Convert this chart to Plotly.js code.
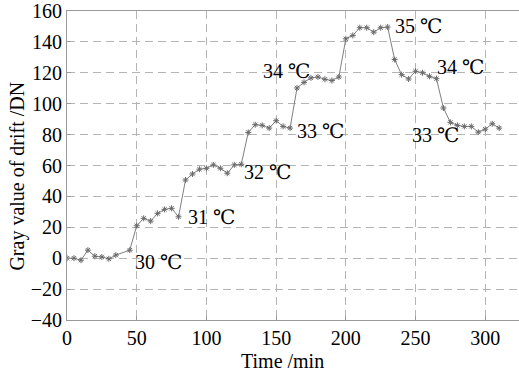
<!DOCTYPE html>
<html>
<head>
<meta charset="utf-8">
<script src="https://cdn.plot.ly/plotly-3.0.1.min.js"></script>
<style>html,body{margin:0;padding:0;background:#fff;}#chart{width:519px;height:373px;}</style>
</head>
<body>
<div id="chart"></div>
<script>
// Time (min)
const timeMin = [0,5,10,15,20,25,30,35,45,50,55,60,65,70,75,80,85,90,95,100,105,110,115,120,125,130,135,140,145,150,155,160,165,170,175,180,185,190,195,200,205,210,215,220,225,230,235,240,245,250,255,260,265,270,275,280,285,290,295,300,305,310];
// Gray value of drift (DN)
const drift = [0,0,-1.3,5.2,1.3,0.8,-0.4,2,5.2,21,25.8,24,29,31.6,32.3,26.8,50.6,54.5,57.6,58.2,60.4,58.2,55,60.4,60.8,81.4,86.4,86,84.2,89,85.3,84.2,110.2,113.8,116.7,117.3,115.8,115,117.3,142,144.2,149.2,149.2,146.3,149.2,149.6,128.6,118.8,116,121,120,117.7,116.2,97.2,87.9,86,85.3,85.3,81.6,83.5,87,84.2];
// Temperature labels
const tempLabels = ["30 ℃","31 ℃","32 ℃","33 ℃","34 ℃","35 ℃","34 ℃","33 ℃"];
const labelX = [47,85.5,125.7,163.2,139.3,233.7,263.6,246.2];
const labelY = [-2.6,26.8,56,82.5,121,150.6,123.6,79.9];
const xTicks = [0,50,100,150,200,250,300];
const yTicks = [-40,-20,0,20,40,60,80,100,120,140,160];
const xTitle = 'Time /min';
const yTitle = 'Gray value of drift /DN';

const serif = "Liberation Serif, DejaVu Serif, serif";
const txt = {family: serif, size: 20, color: '#000'};

const trace = {
  x: timeMin, y: drift, type: 'scatter', mode: 'lines+markers',
  line: {color: '#808080', width: 1},
  marker: {symbol: 'asterisk-open', size: 5, color: '#6a6a6a', line: {color: '#6a6a6a', width: 1}},
  hoverinfo: 'skip'
};

const annotations = tempLabels.map((t, i) => ({
  x: labelX[i], y: labelY[i], xref: 'x', yref: 'y', text: t, showarrow: false,
  xanchor: 'left', yanchor: 'middle', font: txt
}));
annotations.push({x: 0.4757, y: -0.133, xref: 'paper', yref: 'paper', text: xTitle, showarrow: false,
  xanchor: 'center', yanchor: 'middle', font: txt});
annotations.push({x: -0.11, y: 0.465, xref: 'paper', yref: 'paper', text: yTitle, showarrow: false,
  textangle: -90, xanchor: 'center', yanchor: 'middle', font: txt});

const layout = {
  width: 519, height: 373,
  margin: {l: 67, r: 0, t: 11, b: 53},
  paper_bgcolor: '#fff', plot_bgcolor: '#fff',
  showlegend: false,
  font: txt,
  xaxis: {
    range: [0, 324.2], tickvals: xTicks, ticktext: xTicks.map(String),
    showgrid: true, gridcolor: '#b4b4b4', griddash: '8px,5px', gridwidth: 1,
    zeroline: false, showline: true, linecolor: '#9a9a9a', linewidth: 1, mirror: true,
    ticks: 'inside', ticklen: 4, tickcolor: '#9a9a9a',
    tickfont: txt
  },
  yaxis: {
    range: [-40, 160], tickvals: yTicks, ticktext: yTicks.map(v => v < 0 ? '\u2212' + Math.abs(v) : String(v)),
    showgrid: true, gridcolor: '#b4b4b4', griddash: '8px,5px', gridwidth: 1,
    zeroline: false, showline: true, linecolor: '#9a9a9a', linewidth: 1, mirror: false,
    ticks: 'inside', ticklen: 4, tickcolor: '#9a9a9a',
    tickfont: txt
  },
  annotations: annotations
};

Plotly.newPlot('chart', [trace], layout, {displayModeBar: false, staticPlot: true});
</script>
</body>
</html>
